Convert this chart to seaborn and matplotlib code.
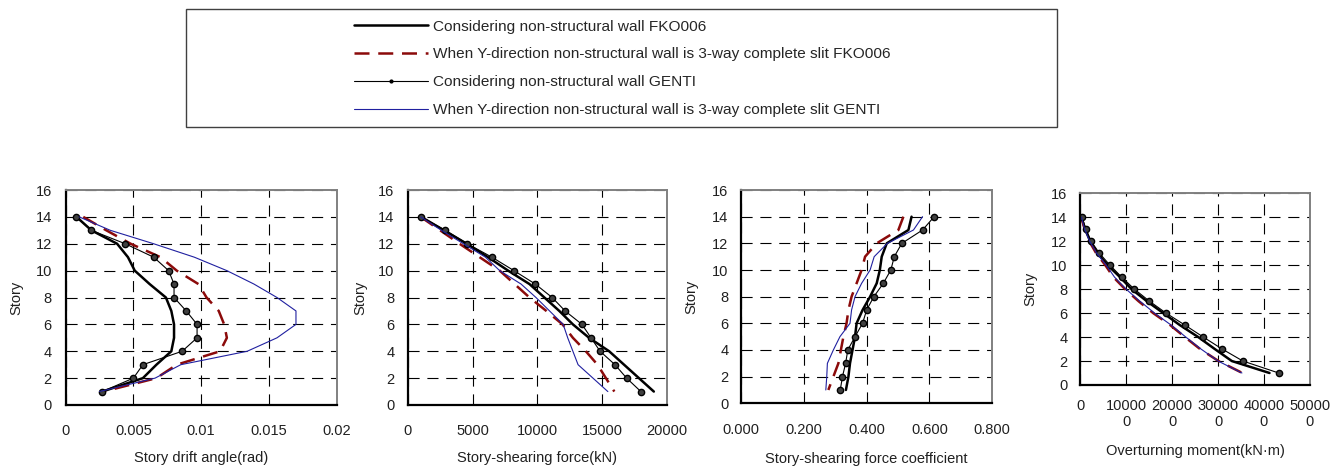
import numpy as np
import pandas as pd
import matplotlib
matplotlib.use('Agg')
import matplotlib.pyplot as plt
from matplotlib.lines import Line2D
from matplotlib.patches import Rectangle
import seaborn as sns

sns.set_style('white')
plt.rcParams['font.family'] = ['Liberation Sans', 'DejaVu Sans']
plt.rcParams['font.size'] = 10.5

stories = [14, 13, 12, 11, 10, 9, 8, 7, 6, 5, 4, 3, 2, 1]

series_names = ['Considering non-structural wall FKO006',
                'When Y-direction non-structural wall is 3-way complete slit FKO006',
                'Considering non-structural wall GENTI',
                'When Y-direction non-structural wall is 3-way complete slit GENTI']

# story drift angle (rad)
drift_fko = [0.0008, 0.0019, 0.0038, 0.0046, 0.0051, 0.0062, 0.0074, 0.0078, 0.0080, 0.0080, 0.0078, 0.0067, 0.0057, 0.0027]
drift_fko_slit = [0.0013, 0.0030, 0.0048, 0.0070, 0.0082, 0.0098, 0.0104, 0.0113, 0.0117, 0.0119, 0.0114, 0.0082, 0.0067, 0.0028]
drift_genti = [0.0008, 0.0019, 0.0044, 0.0065, 0.0076, 0.0080, 0.0080, 0.0089, 0.0097, 0.0097, 0.0086, 0.0057, 0.0050, 0.0027]
drift_genti_slit = [0.0010, 0.0033, 0.0065, 0.0095, 0.0119, 0.0139, 0.0156, 0.0170, 0.0170, 0.0156, 0.0134, 0.0085, 0.0066, 0.0025]

# story shearing force (kN)
shear_fko = [1030, 2800, 4550, 6200, 7750, 9400, 10550, 11700, 12750, 14000, 15550, 16700, 17850, 19000]
shear_fko_slit = [1000, 2500, 4000, 5550, 7100, 8250, 9400, 10700, 11950, 12750, 13750, 14650, 15300, 15950]
shear_genti = [1030, 2900, 4600, 6500, 8200, 9850, 11150, 12150, 13450, 14150, 14850, 16000, 16900, 18000]
shear_genti_slit = [1000, 2600, 4300, 6000, 7100, 8750, 9900, 10950, 12000, 12350, 12750, 13150, 14300, 15450]

# story shearing force coefficient
coef_fko = [0.543, 0.533, 0.464, 0.448, 0.442, 0.432, 0.411, 0.387, 0.368, 0.363, 0.355, 0.347, 0.342, 0.334]
coef_fko_slit = [0.517, 0.501, 0.432, 0.395, 0.384, 0.368, 0.352, 0.342, 0.336, 0.326, 0.318, 0.310, 0.294, 0.278]
coef_genti = [0.615, 0.578, 0.512, 0.488, 0.477, 0.453, 0.423, 0.400, 0.387, 0.363, 0.340, 0.333, 0.323, 0.316]
coef_genti_slit = [0.578, 0.549, 0.466, 0.424, 0.411, 0.384, 0.363, 0.352, 0.347, 0.315, 0.294, 0.275, 0.273, 0.270]

# overturning moment (kN*m)
mom_fko = [3000, 11000, 22000, 38000, 60000, 87000, 112000, 145000, 181000, 217000, 257000, 293000, 330000, 412000]
mom_fko_slit = [3000, 10000, 20000, 35000, 55000, 72500, 98000, 127000, 159000, 196000, 228000, 261000, 301000, 353000]
mom_genti = [4000, 13000, 24000, 42000, 65000, 90600, 118000, 150700, 187000, 228000, 268000, 309000, 354000, 432000]
mom_genti_slit = [3000, 10000, 21000, 36000, 57000, 75000, 100000, 130000, 162000, 198000, 230000, 263000, 300000, 352000]

drift_ticks = [0, 0.005, 0.01, 0.015, 0.02]
drift_labels = ['0', '0.005', '0.01', '0.015', '0.02']
shear_ticks = [0, 5000, 10000, 15000, 20000]
shear_labels = ['0', '5000', '10000', '15000', '20000']
coef_ticks = [0, 0.2, 0.4, 0.6, 0.8]
coef_labels = ['0.000', '0.200', '0.400', '0.600', '0.800']
mom_ticks = [0, 100000, 200000, 300000, 400000, 500000]
mom_labels = ['0', '10000\n0', '20000\n0', '30000\n0', '40000\n0', '50000\n0']

RED = '#8b0a0a'
BLUE = '#2020a0'
styles = [dict(color='black', lw=1.8),
          dict(color=RED, lw=1.8, dashes=(6, 3.5)),
          dict(color='black', lw=0.8, marker='o', markersize=4.5,
               markerfacecolor='#404040', markeredgecolor='black', markeredgewidth=1.0),
          dict(color=BLUE, lw=0.8)]

fig = plt.figure(figsize=(13.4, 4.7), dpi=100)

panels = [
    dict(rect=[0.0490, 0.1383, 0.2022, 0.4574], data=[drift_fko, drift_fko_slit, drift_genti, drift_genti_slit],
         xlim=(0, 0.02), ticks=drift_ticks, labels=drift_labels, xlabel='Story drift angle(rad)',
         xpad=14, ypad=10, xlabpad=9, ylabpad=9),
    dict(rect=[0.3043, 0.1383, 0.1933, 0.4574], data=[shear_fko, shear_fko_slit, shear_genti, shear_genti_slit],
         xlim=(0, 20000), ticks=shear_ticks, labels=shear_labels, xlabel='Story-shearing force(kN)',
         xpad=14, ypad=9.5, xlabpad=9, ylabpad=7.5),
    dict(rect=[0.5530, 0.1419, 0.1875, 0.4538], data=[coef_fko, coef_fko_slit, coef_genti, coef_genti_slit],
         xlim=(0, 0.8), ticks=coef_ticks, labels=coef_labels, xlabel='Story-shearing force coefficient',
         xpad=14, ypad=9, xlabpad=11, ylabpad=10),
    dict(rect=[0.8060, 0.1809, 0.1716, 0.4079], data=[mom_fko, mom_fko_slit, mom_genti, mom_genti_slit],
         xlim=(0, 500000), ticks=mom_ticks, labels=mom_labels, xlabel='Overturning moment(kN·m)',
         xpad=10, ypad=9, xlabpad=11, ylabpad=10),
]

for p in panels:
    ax = fig.add_axes(p['rect'])
    for vals, st in zip(p['data'], styles):
        df = pd.DataFrame({'x': vals, 'story': stories})
        st = dict(st)
        dashes = st.pop('dashes', None)
        sns.lineplot(data=df, x='x', y='story', ax=ax, sort=False, estimator=None, **st)
        if dashes is not None:
            ax.lines[-1].set_dashes(dashes)
    ax.set_xlim(*p['xlim'])
    ax.set_ylim(0, 16)
    ax.set_xticks(p['ticks'])
    ax.set_xticklabels(p['labels'], multialignment='center')
    ax.set_yticks(range(0, 17, 2))
    ax.grid(True, color='black', lw=0.8, linestyle=(0, (10, 7)))
    ax.set_axisbelow(True)
    ax.tick_params(axis='x', length=0, pad=p['xpad'], labelsize=10.5, colors='#202020')
    ax.tick_params(axis='y', length=0, pad=p['ypad'], labelsize=10.5, colors='#202020')
    ax.set_xlabel(p['xlabel'], fontsize=10.5, labelpad=p['xlabpad'], color='#202020')
    ax.set_ylabel('Story', fontsize=10.5, labelpad=p['ylabpad'], color='#202020')
    for side in ['left', 'bottom']:
        ax.spines[side].set_color('black')
        ax.spines[side].set_linewidth(1.6)
    for side in ['top', 'right']:
        ax.spines[side].set_color('#808080')
        ax.spines[side].set_linewidth(1.4)
    for s in ax.spines.values():
        s.set_visible(True)

# legend box
fig.add_artist(Rectangle((186 / 1340, 1 - 127 / 470), (1057 - 186) / 1340, (127 - 9.3) / 470,
                         transform=fig.transFigure, fill=False, edgecolor='#404040', lw=1.0))

handles = [Line2D([], [], color='black', lw=1.8),
           Line2D([], [], color=RED, lw=1.8, dashes=(6, 3.5)),
           Line2D([], [], color='black', lw=0.8, marker='o', markersize=2,
                  markerfacecolor='black', markeredgecolor='black'),
           Line2D([], [], color=BLUE, lw=0.8)]
fig.legend(handles, series_names, loc='upper left', bbox_to_anchor=(354 / 1340, 1 - 19.5 / 470),
           frameon=False, fontsize=11.1, handlelength=4.8, handletextpad=0.32,
           labelspacing=0.9, borderpad=0, borderaxespad=0)

fig.savefig('out.png', dpi=100)
